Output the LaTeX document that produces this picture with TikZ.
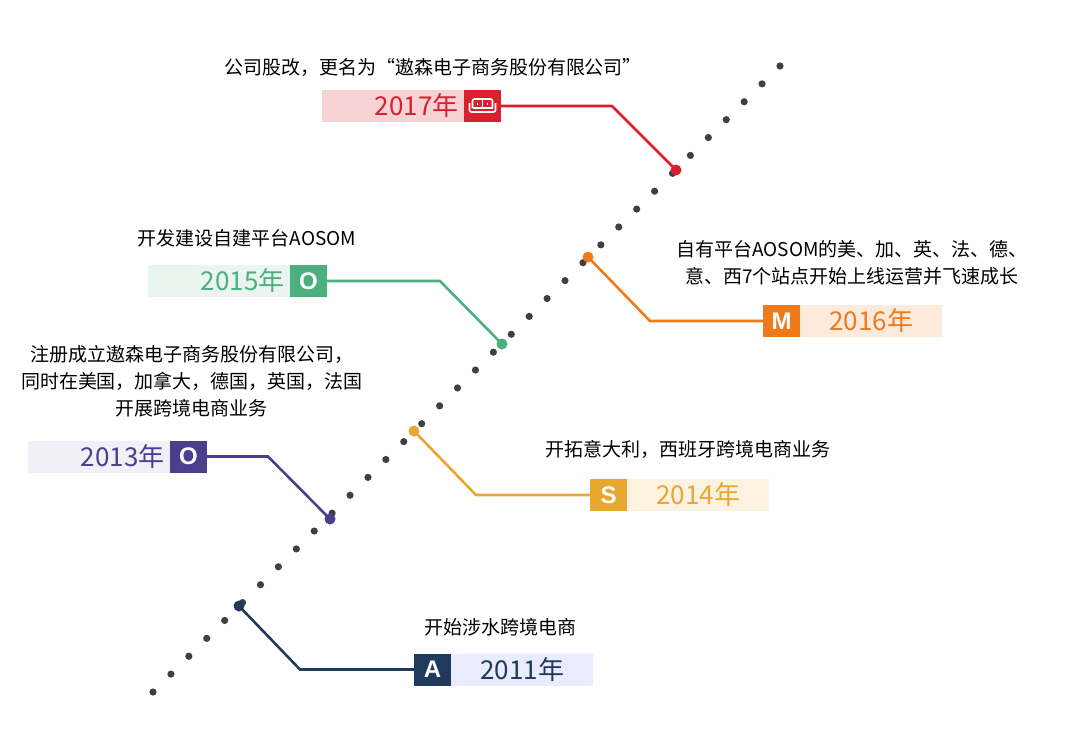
\documentclass[tikz,border=0pt]{standalone}
\usepackage{fontspec}
\setmainfont{Noto Sans CJK SC}
\newfontfamily\iconfont{Liberation Sans}
\usetikzlibrary{positioning}
\definecolor{cnavy}{HTML}{1F3A5A}
\definecolor{cpurple}{HTML}{4B3F8C}
\definecolor{cyellow}{HTML}{E8A830}
\definecolor{cgreen}{HTML}{4CAF7D}
\definecolor{corange}{HTML}{EE7A1A}
\definecolor{cred}{HTML}{D9202F}
\tikzset{
  band/.style={minimum width=142pt,minimum height=32pt,inner sep=0pt,font=\fontsize{26}{28}\selectfont},
  iconbox/.style={minimum width=37pt,minimum height=32pt,inner sep=0pt,text=white,font=\iconfont\bfseries\fontsize{24}{26}\selectfont},
  dotmark/.style={circle,inner sep=0pt,minimum size=11pt},
  note/.style={font=\fontsize{19}{27}\selectfont,align=center},
  link/.style={line width=2.6pt}
}
\begin{document}
\begin{tikzpicture}[x=1pt,y=-1pt]
\useasboundingbox (0,0) rectangle (1080,748);
% punteada diagonal
\foreach \i in {0,...,35}
  \fill[black!75] ({153+\i*17.914},{692-\i*17.886}) circle [radius=3.6pt];
% marcas
\node[dotmark,fill=cnavy] (m11) at (239,606) {};
\node[dotmark,fill=cpurple] (m13) at (330,519) {};
\node[dotmark,fill=cyellow] (m14) at (414,431) {};
\node[dotmark,fill=cgreen] (m15) at (502,344) {};
\node[dotmark,fill=corange] (m16) at (588,257) {};
\node[dotmark,fill=cred] (m17) at (676,170) {};
% 2011
\node[iconbox,fill=cnavy] (i11) at (432.5,669.5) {A};
\node[band,fill=blue!8,text=cnavy,right=0pt of i11] (y11) {2011年};
\draw[link,cnavy] (m11.center) -- (300,669.5) -- (i11.west);
\node[note] (t11) at (500,627) {开始涉水跨境电商};
% 2013
\node[iconbox,fill=cpurple] (i13) at (188.5,456.5) {O};
\node[band,fill=cpurple!8,text=cpurple,left=0pt of i13,text width=132pt,align=right] (y13) {2013年};
\draw[link,cpurple] (i13.east) -- (268,456.5) -- (m13.center);
\node[note] (t13) at (192,381) {注册成立遨森电子商务股份有限公司，\\同时在美国，加拿大，德国，英国，法国\\开展跨境电商业务};
% 2014
\node[iconbox,fill=cyellow] (i14) at (608.5,495) {S};
\node[band,fill=cyellow!15,text=cyellow,right=0pt of i14] (y14) {2014年};
\draw[link,cyellow] (m14.center) -- (476,495) -- (i14.west);
\node[note] (t14) at (688,449) {开拓意大利，西班牙跨境电商业务};
% 2015
\node[iconbox,fill=cgreen] (i15) at (308.5,281) {O};
\node[band,fill=cgreen!12,text=cgreen,left=0pt of i15,text width=132pt,align=right] (y15) {2015年};
\draw[link,cgreen] (i15.east) -- (440,281) -- (m15.center);
\node[note] (t15) at (247,238) {开发建设自建平台AOSOM};
% 2016
\node[iconbox,fill=corange] (i16) at (781.5,321) {M};
\node[band,fill=corange!15,text=corange,right=0pt of i16] (y16) {2016年};
\draw[link,corange] (m16.center) -- (650,321) -- (i16.west);
\node[note] (t16) at (852,263) {自有平台AOSOM的美、加、英、法、德、\\意、西7个站点开始上线运营并飞速成长};
% 2017
\node[iconbox,fill=cred] (i17) at (482.5,106) {};
\node[band,fill=cred!20,text=cred,left=0pt of i17,text width=132pt,align=right] (y17) {2017年};
\draw[link,cred] (i17.east) -- (612,106) -- (m17.center);
\node[note] (t17) at (433,67) {公司股改，更名为“遨森电子商务股份有限公司”};
% sofa
\begin{scope}[white,line width=1.6pt,shift={(i17.center)}]
  \draw[rounded corners=2pt] (-13,-3) -- (-13,6) -- (13,6) -- (13,-3);
  \draw[rounded corners=2pt] (-10,2) -- (-10,-7) -- (10,-7) -- (10,2);
  \draw (-10,2) -- (10,2) (0,-7) -- (0,2);
  \draw (-5,-3) -- (-5,-1) (5,-3) -- (5,-1);
\end{scope}
\end{tikzpicture}
\end{document}
